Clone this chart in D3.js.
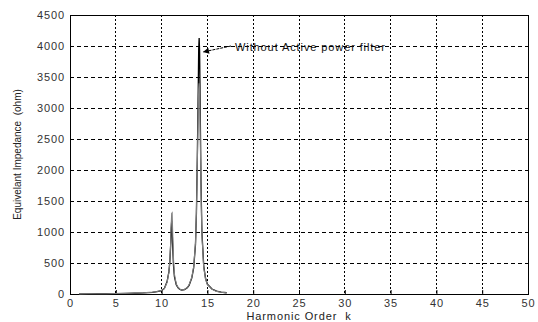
<!DOCTYPE html>
<html>
<head>
<meta charset="utf-8">
<script src="https://cdn.jsdelivr.net/npm/d3@7"></script>
<style>
  body { margin: 0; background: #fff; }
  svg text { font-family: "Liberation Sans", Arial, sans-serif; letter-spacing: 0.9px; }
</style>
</head>
<body>
<div id="chart"></div>
<script>
// harmonic order samples
const harmonicK = [1, 2, 3, 4, 5, 6, 7, 8, 9, 9.5, 10, 10.3, 10.6, 10.8, 10.9, 11.0, 11.05, 11.1, 11.15, 11.2,
  11.3, 11.4, 11.6, 11.8, 12.0, 12.2, 12.5, 12.8, 13.0, 13.3, 13.5, 13.7, 13.8, 13.9, 14.0, 14.05, 14.1, 14.15,
  14.2, 14.3, 14.4, 14.6, 14.8, 15.0, 15.5, 16, 16.5, 17.1];
// without active power filter (black)
const zWithout = [2, 3, 4, 5, 7, 9, 12, 17, 27, 38, 55, 90, 200, 360, 520, 820, 1050, 1180, 1060, 820,
  460, 280, 150, 100, 75, 62, 70, 100, 140, 260, 420, 800, 1300, 2200, 3300, 3950, 4130, 3900,
  3200, 1800, 1000, 450, 250, 160, 80, 45, 30, 20];
// second curve (gray)
const zGray = [2, 3, 4, 5, 7, 9, 12, 20, 30, 40, 55, 85, 190, 350, 520, 860, 1120, 1300, 1310, 1050,
  560, 320, 160, 105, 78, 64, 72, 105, 150, 270, 440, 820, 1300, 2100, 3000, 3300, 3400, 3300,
  2800, 1700, 950, 430, 240, 150, 75, 42, 28, 18];

const xTicks = d3.range(0, 51, 5);
const yTicks = d3.range(0, 4501, 500);

const W = 538, H = 322;
const margin = { top: 15, right: 10, bottom: 28, left: 70 };

const svg = d3.select("#chart").append("svg").attr("width", W).attr("height", H);
const g = svg.append("g").attr("transform", `translate(${margin.left},${margin.top})`);
const width = 528 - margin.left;
const height = 294 - margin.top;

const x = d3.scaleLinear().domain([0, 50]).range([0, width]);
const y = d3.scaleLinear().domain([0, 4500]).range([height, 0]);

// grid
g.append("g").selectAll("line").data(xTicks.slice(1, -1)).join("line")
  .attr("x1", d => x(d)).attr("x2", d => x(d)).attr("y1", 0).attr("y2", height)
  .attr("stroke", "#000").attr("stroke-width", 1).attr("stroke-dasharray", "2,2")
  .attr("shape-rendering", "crispEdges");
g.append("g").selectAll("line").data(yTicks.slice(1, -1)).join("line")
  .attr("y1", d => y(d)).attr("y2", d => y(d)).attr("x1", 0).attr("x2", width)
  .attr("stroke", "#000").attr("stroke-width", 1).attr("stroke-dasharray", "4,3")
  .attr("shape-rendering", "crispEdges");

// axes
const xAxis = g.append("g").attr("transform", `translate(0,${height})`)
  .call(d3.axisBottom(x).tickValues(xTicks).tickFormat(d3.format("d")).tickSize(-4).tickPadding(5));
const yAxis = g.append("g")
  .call(d3.axisLeft(y).tickValues(yTicks).tickFormat(d3.format("d")).tickSize(-4).tickPadding(5));
[xAxis, yAxis].forEach(a => {
  a.select(".domain").remove();
  a.selectAll("line").attr("stroke", "#000");
  a.selectAll("text").attr("font-size", 11).attr("fill", "#333");
});

// frame
g.append("rect").attr("width", width).attr("height", height)
  .attr("fill", "none").attr("stroke", "#000").attr("stroke-width", 1)
  .attr("shape-rendering", "crispEdges");

const line = d3.line().x((d, i) => x(harmonicK[i])).y(d => y(d));
g.append("path").datum(zWithout).attr("d", line)
  .attr("fill", "none").attr("stroke", "#000").attr("stroke-width", 1.3);
g.append("path").datum(zGray).attr("d", line)
  .attr("fill", "none").attr("stroke", "#808080").attr("stroke-width", 1.1);

// annotation
svg.append("defs").append("marker").attr("id", "arr")
  .attr("viewBox", "0 0 10 10").attr("refX", 10).attr("refY", 5)
  .attr("markerWidth", 7).attr("markerHeight", 6).attr("orient", "auto")
  .append("path").attr("d", "M0,0L10,5L0,10z").attr("fill", "#000");
svg.append("line").attr("x1", 231).attr("y1", 46).attr("x2", 203).attr("y2", 52)
  .attr("stroke", "#000").attr("stroke-width", 1).attr("stroke-dasharray", "3,1")
  .attr("marker-end", "url(#arr)");
svg.append("text").attr("x", 235).attr("y", 50.5).attr("font-size", 11)
  .attr("fill", "#111").text("Without Active power filter");

// axis labels
svg.append("text").attr("x", margin.left + width / 2).attr("y", 320)
  .attr("text-anchor", "middle").attr("font-size", 11).attr("fill", "#222")
  .attr("xml:space", "preserve").text("Harmonic Order  k");
svg.append("text").attr("transform", `translate(21,${margin.top + height / 2}) rotate(-90)`)
  .attr("text-anchor", "middle").attr("font-size", 10).attr("fill", "#222")
  .style("letter-spacing", "0px")
  .attr("xml:space", "preserve").text("Equivelant Impedance  (ohm)");
</script>
</body>
</html>
